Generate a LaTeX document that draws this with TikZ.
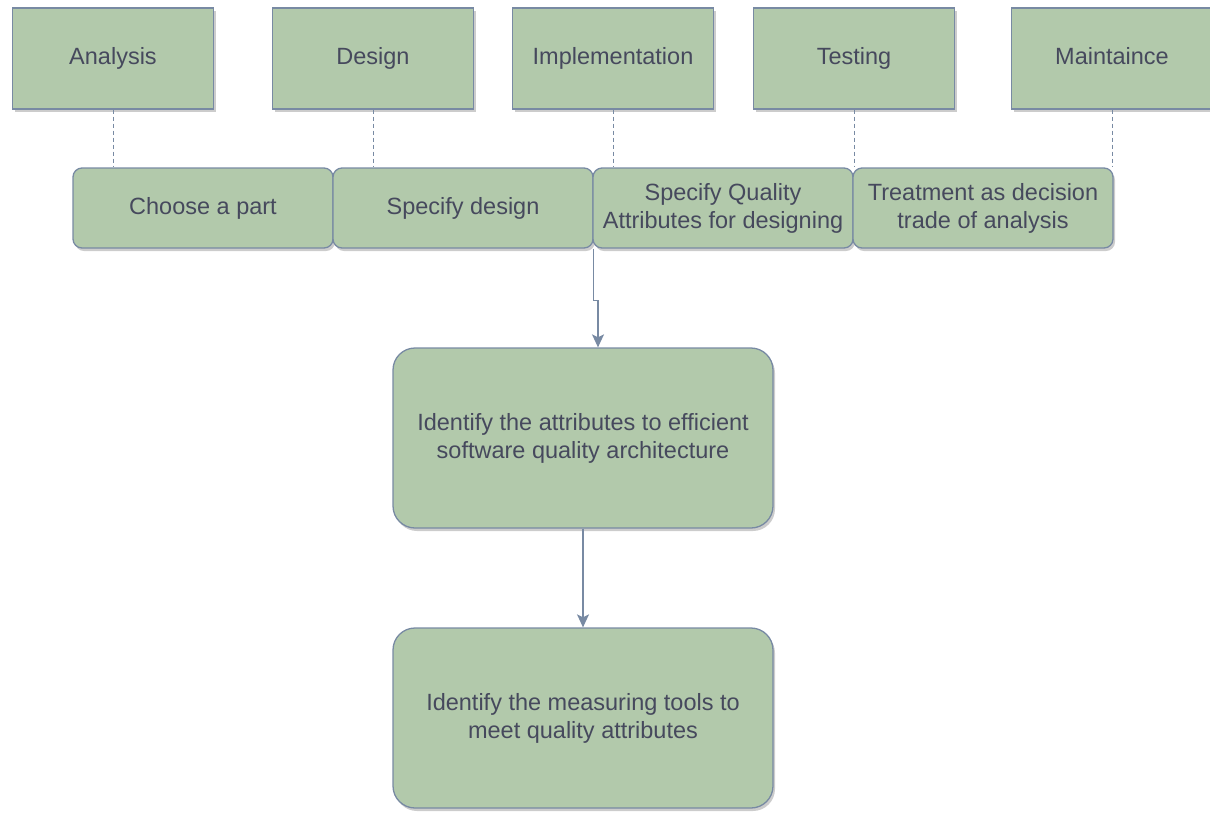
\documentclass[tikz,border=0pt]{standalone}
\usepackage{fontspec}
\setmainfont{Liberation Sans}
\usetikzlibrary{arrows.meta,shadows}
\definecolor{boxfill}{HTML}{B2C9AB}
\definecolor{boxline}{HTML}{788AA3}
\definecolor{boxtext}{HTML}{46495D}

\begin{document}
\begin{tikzpicture}[x=1pt, y=-1pt]
\tikzstyle{box} = [rectangle, draw = boxline, fill = boxfill, line width = 1.3pt, text = boxtext,
  font = \fontsize{23.5}{28}\selectfont,
  drop shadow = {shadow xshift = 2pt, shadow yshift = -3pt, opacity = 0.4}]
\tikzstyle{phase} = [box, minimum width = 201pt, minimum height = 101pt,
  text height = 17pt, text depth = 5pt]
\tikzstyle{task} = [box, rounded corners = 9pt, minimum width = 260pt, minimum height = 80pt,
  align = center, inner sep = 2pt]
\tikzstyle{goal} = [task, rounded corners = 22pt, minimum width = 380pt, minimum height = 180pt]
\tikzstyle{link} = [draw = boxline, line width = 0.9pt, dash pattern = on 4pt off 3pt]
\tikzstyle{edge} = [draw = boxline, line width = 1.4pt, -{Stealth[length = 13pt, width = 12pt, inset = 3pt]}]
\useasboundingbox (0, 0) rectangle (1210, 812);
% -----------------------------------
% Phases
\node[phase] (A) at (113, 58.5) {Analysis};
\node[phase] (D) at (373, 58.5) {Design};
\node[phase] (I) at (613, 58.5) {Implementation};
\node[phase] (T) at (854, 58.5) {Testing};
\node[phase] (M) at (1112, 58.5) {Maintaince};

% -----------------------------------
% Tasks
\node[task] (CP) at (203, 208) {Choose a part};
\node[task] (SD) at (463, 208) {Specify design};
\node[task] (SQ) at (723, 208) {Specify Quality\\Attributes for designing};
\node[task] (TR) at (983, 208) {Treatment as decision\\trade of analysis};

\draw[link] (A.south) -- (A.south |- CP.north);
\draw[link] (D.south) -- (D.south |- CP.north);
\draw[link] (I.south) -- (I.south |- CP.north);
\draw[link] (T.south) -- (T.south |- CP.north);
\draw[link] (M.south) -- (M.south |- CP.north);

% -----------------------------------
% Goals
\node[goal] (ID1) at (583, 438) {Identify the attributes to efficient\\software quality architecture};
\node[goal] (ID2) at (583, 718) {Identify the measuring tools to\\meet quality attributes};

\draw[edge] (SD.south east) -- ++(0, 52) -| ([xshift = 15pt]ID1.north);
\draw[edge] (ID1) -- (ID2);
% -----------------------------------
\end{tikzpicture}
\end{document}
